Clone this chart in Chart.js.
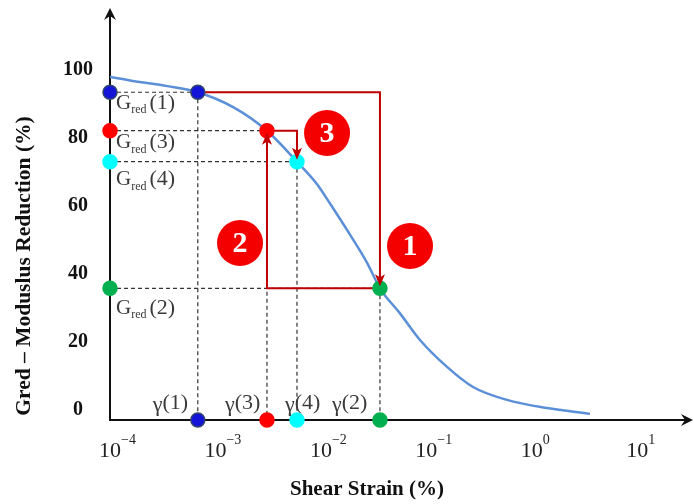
<!DOCTYPE html>
<html>
<head>
<meta charset="utf-8">
<script src="https://cdn.jsdelivr.net/npm/chart.js@4.4.1/dist/chart.umd.min.js"></script>
<style>
  body { margin: 0; background: #fff; }
</style>
</head>
<body>
<canvas id="myChart" width="694" height="504"></canvas>
<script>
// modulus reduction curve
let strain = [1e-4, 1.65e-4, 3.5e-4, 6.8e-4, 1.5e-3, 3.08e-3, 5.93e-3, 9.2e-3, 1.22e-2, 1.9e-2, 2.75e-2, 3.63e-2, 5.6e-2, 8.7e-2, 0.157, 0.277, 0.58, 1.39, 3.56];
let gred = [97.8, 96.6, 95.1, 93.3, 88.8, 82.0, 72.9, 66.3, 60.6, 51.3, 43.1, 35.7, 28.4, 20.5, 12.6, 6.7, 2.9, 0.5, -1.2];

// iteration states (1) .. (4)
let stepGamma = [6.8e-4, 3.63e-2, 3.08e-3, 5.93e-3];
let stepGred = [93.3, 35.7, 82.0, 72.9];
let stepColor = ["#1414d8", "#00b050", "#ff0000", "#00ffff"];
let stepBorder = ["#33466b", "#00b050", "#ff0000", "#00ffff"];

// numbered badges
let badgeText = ["1", "2", "3"];
let badgeGamma = [0.07, 1.71e-3, 0.01143];
let badgeGred = [48.1, 49.0, 81.3];

let yTicks = [0, 20, 40, 60, 80, 100];
let xDecades = [-4, -3, -2, -1, 0, 1];

const xMin = 1e-4, xMax = Math.pow(10, 1.5);
const yMin = -3, yMax = 116;

const serif = "'Liberation Serif', 'Times New Roman', serif";
const textColor = "#3a3a3a";

// label placement (px offsets from the marker)
let gLabelDy = [11, 20, 12, 18];
let gammaLabelDx = [-45, -48, -42, -12];

function arrowHead(ctx, x, y, dx, dy, len, half, back) {
  const nx = -dy, ny = dx;
  ctx.beginPath();
  ctx.moveTo(x, y);
  ctx.lineTo(x - dx * len + nx * half, y - dy * len + ny * half);
  ctx.lineTo(x - dx * (len - back), y - dy * (len - back));
  ctx.lineTo(x - dx * len - nx * half, y - dy * len - ny * half);
  ctx.closePath();
  ctx.fill();
}

const guides = {
  id: "guides",
  beforeDatasetsDraw(chart) {
    const { ctx, chartArea: a, scales: { x, y } } = chart;
    ctx.save();
    // dashed projections to both axes
    ctx.strokeStyle = "#333";
    ctx.lineWidth = 1.2;
    ctx.setLineDash([4, 3]);
    for (let i = 0; i < stepGamma.length; i++) {
      const px = x.getPixelForValue(stepGamma[i]);
      const py = y.getPixelForValue(stepGred[i]);
      ctx.beginPath();
      ctx.moveTo(a.left, py);
      ctx.lineTo(px, py);
      ctx.moveTo(px, py);
      ctx.lineTo(px, a.bottom);
      ctx.stroke();
    }
    ctx.setLineDash([]);
    // iteration path
    ctx.strokeStyle = "#c00000";
    ctx.lineWidth = 2;
    ctx.beginPath();
    for (let i = 0; i < stepGamma.length - 1; i++) {
      const x0 = x.getPixelForValue(stepGamma[i]);
      const y0 = y.getPixelForValue(stepGred[i]);
      const x1 = x.getPixelForValue(stepGamma[i + 1]);
      const y1 = y.getPixelForValue(stepGred[i + 1]);
      ctx.moveTo(x0, y0);
      ctx.lineTo(x1, y0);
      ctx.lineTo(x1, y1 + (y1 > y0 ? -4 : 4));
    }
    ctx.stroke();
    ctx.restore();
  },
  afterDatasetsDraw(chart) {
    const { ctx, chartArea: a, scales: { x, y } } = chart;
    ctx.save();
    // arrow heads of the iteration path
    ctx.fillStyle = "#c00000";
    for (let i = 0; i < stepGamma.length - 1; i++) {
      const y0 = y.getPixelForValue(stepGred[i]);
      const x1 = x.getPixelForValue(stepGamma[i + 1]);
      const y1 = y.getPixelForValue(stepGred[i + 1]);
      const dir = y1 > y0 ? 1 : -1;
      arrowHead(ctx, x1, y1 - dir * 2, 0, dir, 12, 5, 3);
    }

    // axis arrows
    ctx.strokeStyle = "#111";
    ctx.fillStyle = "#111";
    ctx.lineWidth = 2;
    ctx.beginPath();
    ctx.moveTo(a.left, a.top);
    ctx.lineTo(a.left, 12);
    ctx.moveTo(a.right, a.bottom);
    ctx.lineTo(a.right + 1, a.bottom);
    ctx.stroke();
    arrowHead(ctx, a.left, 8, 0, -1, 12, 6, 4);
    arrowHead(ctx, a.right + 3, a.bottom, 1, 0, 12, 6, 4);

    // badge digits
    ctx.fillStyle = "#fff";
    ctx.font = "bold 30px " + serif;
    ctx.textAlign = "center";
    ctx.textBaseline = "middle";
    for (let i = 0; i < badgeText.length; i++) {
      ctx.fillText(badgeText[i], x.getPixelForValue(badgeGamma[i]), y.getPixelForValue(badgeGred[i]) + 1);
    }

    // x tick labels 10^n
    ctx.fillStyle = "#222";
    for (const d of xDecades) {
      const px = x.getPixelForValue(Math.pow(10, d));
      ctx.textAlign = "center";
      ctx.font = "22px " + serif;
      ctx.fillText("10", px, 451);
      ctx.textAlign = "left";
      ctx.font = "14px " + serif;
      ctx.fillText(d < 0 ? "\u2212" + (-d) : String(d), px + 11, 440);
    }

    // G_red(n) labels beside the y-axis
    ctx.fillStyle = textColor;
    ctx.textAlign = "left";
    for (let i = 0; i < stepGred.length; i++) {
      const cy = y.getPixelForValue(stepGred[i]) + gLabelDy[i];
      let lx = a.left + 6;
      ctx.font = "21px " + serif;
      ctx.fillText("G", lx, cy);
      lx += ctx.measureText("G").width;
      ctx.font = "12px " + serif;
      ctx.fillText("red", lx, cy + 7);
      lx += ctx.measureText("red").width + 3;
      ctx.font = "22px " + serif;
      ctx.fillText("(" + (i + 1) + ")", lx, cy);
    }

    // gamma(n) labels above the x-axis
    for (let i = 0; i < stepGamma.length; i++) {
      let lx = x.getPixelForValue(stepGamma[i]) + gammaLabelDx[i];
      const cy = a.bottom - 17;
      ctx.font = "22px " + serif;
      ctx.fillText("\u03b3", lx, cy + 2);
      lx += ctx.measureText("\u03b3").width;
      ctx.fillText("(" + (i + 1) + ")", lx, cy);
    }

    // axis titles
    ctx.fillStyle = "#111";
    ctx.font = "bold 21px " + serif;
    ctx.textAlign = "center";
    ctx.fillText("Shear Strain (%)", 367, 490);
    ctx.translate(24, 266);
    ctx.rotate(-Math.PI / 2);
    ctx.font = "bold 21.5px " + serif;
    ctx.fillText("Gred \u2013 Moduslus Reduction (%)", 0, 0);
    ctx.restore();
  }
};

const config = {
  type: "scatter",
  data: {
    datasets: [
      {
        // states on the curve
        data: stepGamma.map((g, i) => ({ x: g, y: stepGred[i] })),
        pointBackgroundColor: stepColor,
        pointBorderColor: stepBorder,
        pointBorderWidth: 1.5,
        pointRadius: 7,
        clip: false,
      },
      {
        // projections on the y-axis
        data: stepGred.map((v) => ({ x: xMin, y: v })),
        pointBackgroundColor: stepColor,
        pointBorderColor: stepBorder,
        pointBorderWidth: 1.5,
        pointRadius: 7,
        clip: false,
      },
      {
        // projections on the x-axis
        data: stepGamma.map((g) => ({ x: g, y: yMin })),
        pointBackgroundColor: stepColor,
        pointBorderColor: stepBorder,
        pointBorderWidth: 1.5,
        pointRadius: 7,
        clip: false,
      },
      {
        data: badgeGamma.map((g, i) => ({ x: g, y: badgeGred[i] })),
        pointBackgroundColor: "#f50000",
        pointBorderWidth: 0,
        pointRadius: 23,
        clip: false,
      },
      {
        data: strain.map((s, i) => ({ x: s, y: gred[i] })),
        showLine: true,
        borderColor: "#5b8fd8",
        borderWidth: 2.5,
        pointRadius: 0,
        cubicInterpolationMode: "monotone",
      },
    ],
  },
  options: {
    responsive: false,
    animation: false,
    events: [],
    layout: { autoPadding: false, padding: { left: 0, top: 15, right: 4, bottom: 0 } },
    plugins: {
      legend: { display: false },
      tooltip: { enabled: false },
    },
    scales: {
      x: {
        type: "logarithmic",
        min: xMin,
        max: xMax,
        grid: { display: false },
        border: { display: true, color: "#111", width: 2 },
        ticks: { display: false },
        afterBuildTicks: (scale) => {
          scale.ticks = xDecades.map((d) => ({ value: Math.pow(10, d) }));
        },
        afterFit: (scale) => {
          scale.height = 84;
        },
      },
      y: {
        min: yMin,
        max: yMax,
        grid: { display: false, drawTicks: false },
        border: { display: true, color: "#111", width: 2 },
        ticks: {
          crossAlign: "center",
          padding: 17,
          color: "#111",
          font: { family: serif, size: 20, weight: "bold" },
        },
        afterBuildTicks: (scale) => {
          scale.ticks = yTicks.map((v) => ({ value: v }));
        },
        afterFit: (scale) => {
          scale.width = 110;
          scale.paddingTop = 0;
          scale.paddingBottom = 0;
        },
      },
    },
  },
  plugins: [guides],
};

var myChart = new Chart(document.getElementById("myChart"), config);
</script>
</body>
</html>
